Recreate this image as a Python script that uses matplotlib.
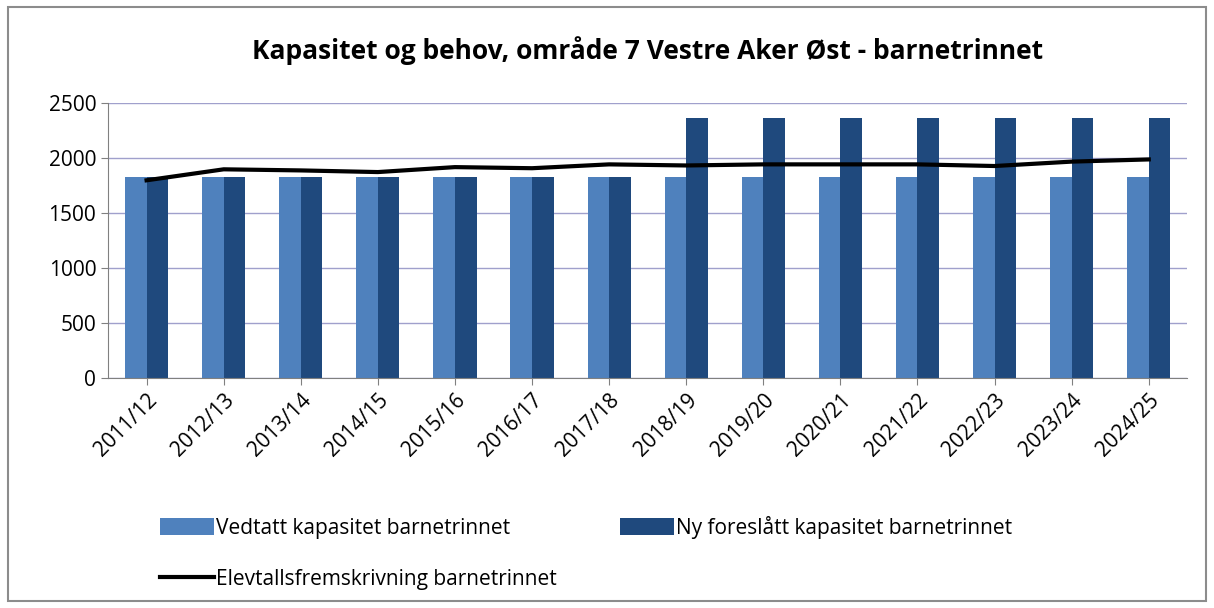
import numpy as np
import matplotlib.pyplot as plt
from matplotlib.patches import Rectangle

years = ["2011/12", "2012/13", "2013/14", "2014/15", "2015/16", "2016/17", "2017/18",
         "2018/19", "2019/20", "2020/21", "2021/22", "2022/23", "2023/24", "2024/25"]
vedtatt = [1830] * 14
ny_foreslatt = [1830, 1830, 1830, 1830, 1830, 1830, 1830,
                2370, 2370, 2370, 2370, 2370, 2370, 2370]
elevtall = [1800, 1900, 1890, 1875, 1920, 1910, 1945,
            1935, 1945, 1945, 1945, 1930, 1970, 1990]

plt.rcParams["font.family"] = ["Open Sans", "DejaVu Sans"]

fig = plt.figure(figsize=(12.14, 6.08), dpi=100)
fig.patches.append(Rectangle((0.007, 0.012), 0.986, 0.976, transform=fig.transFigure,
                             fill=False, edgecolor="#8c8c8c", linewidth=1.5))
ax = fig.add_axes([0.089, 0.378, 0.889, 0.452])

x = np.arange(len(years))
w = 0.28
b1 = ax.bar(x - w / 2, vedtatt, w, color="#4f81bd", label="Vedtatt kapasitet barnetrinnet", zorder=2)
b2 = ax.bar(x + w / 2, ny_foreslatt, w, color="#1f497d", label="Ny foreslått kapasitet barnetrinnet", zorder=2)
l1, = ax.plot(x, elevtall, color="black", linewidth=3, label="Elevtallsfremskrivning barnetrinnet", zorder=3)

ax.set_xlim(-0.5, len(years) - 0.5)
ax.set_ylim(0, 2500)
ax.set_yticks(range(0, 2501, 500))
ax.set_xticks(x)
ax.set_xticklabels(years, rotation=45, ha="right", rotation_mode="anchor", fontsize=15)
ax.tick_params(axis="y", labelsize=15, length=5, color="#808080")
ax.tick_params(axis="x", length=5, color="#808080")
ax.grid(axis="y", color="#a0a0cc", linewidth=1, zorder=0)
for s in ["top", "right"]:
    ax.spines[s].set_visible(False)
ax.spines["left"].set_color("#808080")
ax.spines["bottom"].set_color("#808080")

ax.set_title("Kapasitet og behov, område 7 Vestre Aker Øst - barnetrinnet",
             fontsize=19, fontweight="bold", pad=32)

fig.legend([b1, l1, b2],
           ["Vedtatt kapasitet barnetrinnet", "Elevtallsfremskrivning barnetrinnet",
            "Ny foreslått kapasitet barnetrinnet"],
           loc="upper left", bbox_to_anchor=(0.125, 0.165), borderaxespad=0, ncol=2,
           frameon=False, fontsize=15, handlelength=2.6, handleheight=0.9,
           handletextpad=0.1, columnspacing=3.0, labelspacing=1.45)

fig.savefig("out.png", dpi=100)
